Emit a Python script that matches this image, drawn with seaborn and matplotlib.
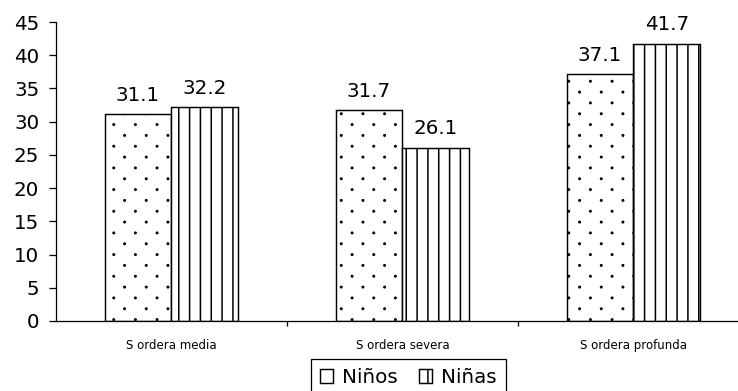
import numpy as np
import pandas as pd
import matplotlib
matplotlib.use("Agg")
import matplotlib.pyplot as plt
from matplotlib import hatch as mhatch
from matplotlib.path import Path
import seaborn as sns

# Data
categorias = ["S ordera media", "S ordera severa", "S ordera profunda"]
ninos = [31.1, 31.7, 37.1]
ninas = [32.2, 26.1, 41.7]
series = ["Niños", "Niñas"]
yticks = [0, 5, 10, 15, 20, 25, 30, 35, 40, 45]


class SparseDots(mhatch.HatchPatternBase):
    """Staggered dot hatch: rows 1/n apart, dots 2/n apart within a row."""
    size = 0.011

    def __init__(self, hatch, density):
        rows = hatch.count('.') * density
        pts = []
        for i in range(rows):
            for j in range(rows // 2):
                pts.append(((2 * j + 0.5 + (i % 2)) / rows, (i + 0.5) / rows))
        circle = Path.unit_circle()
        self.shape_vertices = circle.vertices * self.size
        self.shape_codes = circle.codes
        self.centers = pts
        self.num_vertices = len(pts) * len(self.shape_vertices)

    def set_vertices_and_codes(self, vertices, codes):
        n = len(self.shape_vertices)
        for k, (cx, cy) in enumerate(self.centers):
            vertices[k * n:(k + 1) * n] = self.shape_vertices + (cx, cy)
            codes[k * n:(k + 1) * n] = self.shape_codes


mhatch._hatch_types = [SparseDots if t is mhatch.SmallFilledCircles else t
                       for t in mhatch._hatch_types]

sns.set_style("white")
plt.rcParams["font.family"] = ["DejaVu Sans"]
plt.rcParams["hatch.linewidth"] = 1.7
plt.rcParams["hatch.color"] = "black"
for key in ["text.color", "axes.labelcolor", "xtick.color", "ytick.color"]:
    plt.rcParams[key] = "black"

BIG = 22
DPI = 65
W, H = 738, 391
fig = plt.figure(figsize=(W / DPI, H / DPI), dpi=DPI)
ax = fig.add_axes([56 / W, (H - 321) / H, (749 - 56) / W, (321 - 22) / H])

df = pd.DataFrame({
    "categoria": categorias * 2,
    "sexo": [series[0]] * len(ninos) + [series[1]] * len(ninas),
    "valor": ninos + ninas,
})

sns.barplot(data=df, x="categoria", y="valor", hue="sexo", hue_order=series,
            palette=["white", "white"], saturation=1, width=0.58,
            edgecolor="black", linewidth=1.6, errorbar=None, legend=False, ax=ax)

hatches = [".", "|"]
for cont, h in zip(ax.containers, hatches):
    for bar in cont:
        bar.set_hatch(h)
    ax.bar_label(cont, fmt="%.1f", padding=10.5, fontsize=BIG, color="black")

ax.set_ylim(0, 45)
ax.set_xlim(-0.5, 2.5)
ax.set_yticks(yticks)
ax.set_xlabel("")
ax.set_ylabel("")

for side in ["top", "right"]:
    ax.spines[side].set_visible(False)
for side in ["left", "bottom"]:
    ax.spines[side].set_linewidth(1.4)
    ax.spines[side].set_color("black")

ax.tick_params(axis="y", direction="out", length=7.5, width=1.4, pad=11,
               labelsize=BIG, color="black", labelcolor="black", left=True)
ax.tick_params(axis="x", which="major", length=0, pad=19.5, labelsize=13,
               labelcolor="black")
ax.set_xticks([0.5, 1.5], minor=True)
ax.tick_params(axis="x", which="minor", direction="out", length=6, width=1.4,
               color="black", bottom=True)

handles = [cont.patches[0] for cont in ax.containers]
leg = fig.legend(handles, series, loc="upper left",
                 bbox_to_anchor=(311 / W, 1 - 359 / H),
                 bbox_transform=fig.transFigure,
                 ncol=2, fontsize=BIG, frameon=True, fancybox=False,
                 framealpha=1, edgecolor="black", borderpad=0.45,
                 handlelength=0.65, handleheight=0.65, handletextpad=0.45,
                 columnspacing=1.1, borderaxespad=0)
leg.get_frame().set_linewidth(1.4)

fig.savefig("out.png", dpi=DPI)
